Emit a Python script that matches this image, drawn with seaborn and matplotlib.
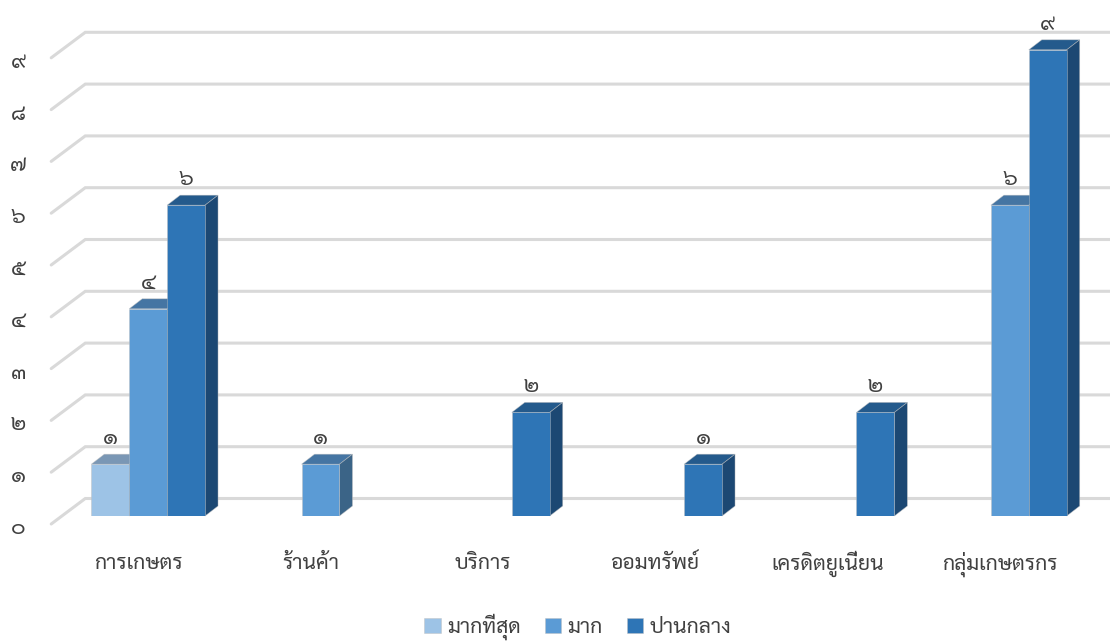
"""Clustered bars with a drawn-on 3D look: front faces from seaborn, depth from the bar patches."""

import matplotlib
matplotlib.use("Agg")
import matplotlib.pyplot as plt
import pandas as pd
import seaborn as sns
from matplotlib.patches import Polygon
from matplotlib.transforms import ScaledTranslation

CATEGORIES = ["การเกษตร", "ร้านค้า", "บริการ", "ออมทรัพย์", "เครดิตยูเนี่ยน", "กลุ่มเกษตรกร"]
SERIES = ["มากที่สุด", "มาก", "ปานกลาง"]
MOST = [1, None, None, None, None, None]
MUCH = [4, 1, None, None, None, 6]
MEDIUM = [6, None, 2, 1, 2, 9]
TICKS = [0, 1, 2, 3, 4, 5, 6, 7, 8, 9]
THAI_DIGITS = "๐๑๒๓๔๕๖๗๘๙"

FRONT = ["#9DC3E6", "#5B9BD5", "#2E75B6"]
TOP = ["#7A97B5", "#4575A3", "#245A8C"]
SIDE = ["#5F7F9F", "#3B6487", "#1C4873"]
TEXT = "#404040"
EDGE = (0.75, 0.75, 0.75, 0.6)

# Pixel geometry of the fake depth, converted to data units below.
PX_X = 172.4
PX_Y = 51.8
DEPTH_X = 13 / PX_X
DEPTH_Y = 10 / PX_Y


def build_dataset():
    rows = []
    for name, values in zip(SERIES, [MOST, MUCH, MEDIUM]):
        for cat, val in zip(CATEGORIES, values):
            if val is not None:
                rows.append({"cat": cat, "series": name, "value": val})
    return pd.DataFrame(rows)


def to_thai(value):
    return "".join(THAI_DIGITS[int(c)] for c in str(int(value)))


def draw_walls(ax):
    # Grid lines run along the back wall and fold forward at the left.
    for v in TICKS:
        ax.plot(
            [-0.5626, -0.365, 5.6],
            [v - 8 / PX_Y, v + 17.5 / PX_Y, v + 17.5 / PX_Y],
            color="#D9D9D9", lw=2.2, zorder=1, clip_on=False, solid_joinstyle="miter",
        )


def draw_depth(ax):
    for i, container in enumerate(ax.containers):
        for bar in container:
            x0, x1 = bar.get_x(), bar.get_x() + bar.get_width()
            y1 = bar.get_height()
            top = [(x0, y1), (x1, y1), (x1 + DEPTH_X, y1 + DEPTH_Y), (x0 + DEPTH_X, y1 + DEPTH_Y)]
            side = [(x1, 0), (x1 + DEPTH_X, DEPTH_Y), (x1 + DEPTH_X, y1 + DEPTH_Y), (x1, y1)]
            for face, color in ((top, TOP[i]), (side, SIDE[i])):
                ax.add_patch(Polygon(face, facecolor=color, edgecolor=EDGE, lw=0.5, zorder=2, clip_on=False))


def plot(df):
    fig = plt.figure(figsize=(11.1, 6.42), dpi=100)
    ax = fig.add_axes([62 / 1110, 1 - 516 / 642, 1034 / 1110, 466.2 / 642])
    sns.barplot(
        data=df, x="cat", y="value", hue="series",
        order=CATEGORIES, hue_order=SERIES, palette=FRONT,
        width=0.66, gap=0, saturation=1, zorder=3, linewidth=0.5, edgecolor=EDGE, ax=ax,
    )
    ax.set_xlim(-0.5, 5.5)
    ax.set_ylim(0, 9)
    sns.despine(ax=ax, left=True, bottom=True)
    ax.set_xlabel("")
    ax.set_ylabel("")
    draw_walls(ax)
    draw_depth(ax)

    ax.set_yticks(TICKS, [to_thai(v) for v in TICKS], fontsize=16, color=TEXT)
    ax.tick_params(axis="y", length=0, pad=26)
    ax.tick_params(axis="x", length=0, pad=38.5, labelsize=15.2, labelcolor=TEXT)
    down = ScaledTranslation(0, -10 / fig.dpi, fig.dpi_scale_trans)
    for label in ax.get_yticklabels():
        label.set_transform(label.get_transform() + down)
    left = ScaledTranslation(-10 / fig.dpi, 0, fig.dpi_scale_trans)
    for label in ax.get_xticklabels():
        label.set_transform(label.get_transform() + left)
        label.set_verticalalignment("baseline")

    for container in ax.containers:
        ax.bar_label(container, fmt=to_thai, padding=11, fontsize=16, color=TEXT)

    handles, labels = ax.get_legend_handles_labels()
    ax.legend(
        handles, labels, ncol=3, frameon=False, loc="center", fontsize=15.2,
        labelcolor=TEXT,
        bbox_to_anchor=(578 / 1110, 1 - 627 / 642), bbox_transform=fig.transFigure,
        handlelength=0.77, handleheight=0.77, handletextpad=0.3, columnspacing=1.15,
    )
    fig.savefig("out.png", dpi=100)


def main():
    sns.set_theme(style="white")
    plt.rcParams["font.family"] = ["Sarabun", "DejaVu Sans"]
    plot(build_dataset())


if __name__ == "__main__":
    main()
